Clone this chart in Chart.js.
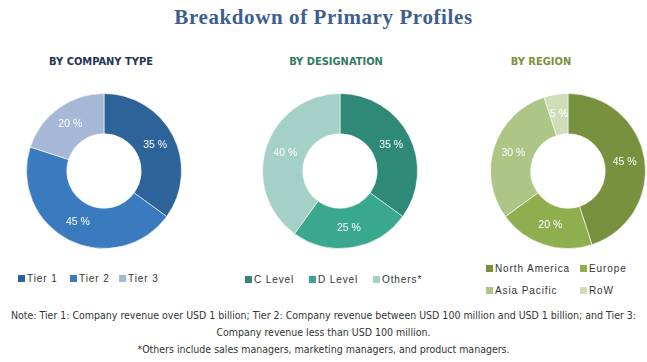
<!DOCTYPE html>
<html lang="en">
<head>
  <meta charset="UTF-8" />
  <title>Breakdown of Primary Profiles</title>
  <script src="https://cdn.jsdelivr.net/npm/chart.js@4.4.3/dist/chart.umd.min.js"></script>
  <style>
    body {
      margin: 0;
      width: 647px;
      height: 362px;
      background: #ffffff;
      position: relative;
      overflow: hidden;
      font-family: "Liberation Sans", Arial, sans-serif;
    }
    .title {
      position: absolute;
      left: 0; width: 647px; top: 5px;
      text-align: center;
      font-family: "Liberation Serif", "DejaVu Serif", serif;
      font-weight: bold;
      font-size: 21px;
      letter-spacing: 0.6px;
      color: #3d5f8f;
    }
    .sub {
      position: absolute;
      top: 55px;
      font-family: "DejaVu Sans Condensed", "DejaVu Sans", sans-serif;
      font-stretch: condensed;
      font-weight: bold;
      font-size: 11px;
      transform: translateX(-50%);
      white-space: nowrap;
    }
    .box {
      position: absolute;
      width: 156px;
      height: 156px;
    }
    .legend {
      position: absolute;
      font-size: 10px;
      letter-spacing: 0.9px;
      color: #333;
      white-space: nowrap;
    }
    .legend span { position: absolute; }
    .legend i {
      display: inline-block;
      width: 7px; height: 7px;
      margin-right: 2px;
      vertical-align: 0px;
    }
    .note {
      position: absolute;
      left: 0; width: 647px;
      text-align: center;
      white-space: nowrap;
      font-family: "DejaVu Sans Condensed", "DejaVu Sans", sans-serif;
      font-stretch: condensed;
      font-size: 10.5px;
      color: #333;
    }
  </style>
</head>
<body>
  <div class="title">Breakdown of Primary Profiles</div>
  <div class="sub" style="left:101px;color:#1f3552">BY COMPANY TYPE</div>
  <div class="sub" style="left:336px;color:#2e7b66">BY DESIGNATION</div>
  <div class="sub" style="left:541px;color:#7b913b">BY REGION</div>

  <div class="box" style="left:26px;top:93px"><canvas id="c1" width="156" height="156"></canvas></div>
  <div class="box" style="left:262px;top:93px"><canvas id="c2" width="156" height="156"></canvas></div>
  <div class="box" style="left:490px;top:93px"><canvas id="c3" width="156" height="156"></canvas></div>

  <div class="legend" id="lg1" style="left:18px;top:273px"></div>
  <div class="legend" id="lg2" style="left:245px;top:274px"></div>
  <div class="legend" id="lg3" style="left:486px;top:263px"></div>

  <div class="note" style="top:309px">Note: Tier 1: Company revenue over USD 1 billion; Tier 2: Company revenue between USD 100 million and USD 1 billion; and Tier 3:</div>
  <div class="note" style="top:326px">Company revenue less than USD 100 million.</div>
  <div class="note" style="top:343px">*Others include sales managers, marketing managers, and product managers.</div>

  <script>
    // company type
    const companyLabels = ['Tier 1', 'Tier 2', 'Tier 3'];
    const companyValues = [35, 45, 20];
    const companyColors = ['#2e6399', '#3a7bbf', '#a6b8d6'];

    // designation
    const designLabels = ['C Level', 'D Level', 'Others*'];
    const designValues = [35, 25, 40];
    const designColors = ['#2e8a77', '#3aa78f', '#a4d0c5'];

    // region
    const regionLabels = ['North America', 'Europe', 'Asia Pacific', 'RoW'];
    const regionValues = [45, 20, 30, 5];
    const regionColors = ['#78913e', '#8fae4e', '#adc686', '#d0ddb9'];

    // percent labels in the middle of each ring segment
    const pctLabels = {
      id: 'pctLabels',
      afterDatasetsDraw(chart) {
        const ctx = chart.ctx;
        const meta = chart.getDatasetMeta(0);
        ctx.save();
        ctx.font = '10.5px "Liberation Sans", Arial, sans-serif';
        ctx.fillStyle = '#ffffff';
        ctx.textAlign = 'center';
        ctx.textBaseline = 'middle';
        meta.data.forEach((arc, i) => {
          const p = arc.tooltipPosition();
          ctx.fillText(chart.data.datasets[0].data[i] + ' %', p.x, p.y);
        });
        ctx.restore();
      }
    };

    function donut(id, labels, values, colors) {
      new Chart(document.getElementById(id), {
        type: 'doughnut',
        data: {
          labels: labels,
          datasets: [{
            data: values,
            backgroundColor: colors,
            borderColor: 'rgba(255,255,255,0.6)',
            borderWidth: 1
          }]
        },
        options: {
          responsive: false,
          animation: false,
          cutout: '48%',
          layout: { padding: 0 },
          plugins: {
            legend: { display: false },
            tooltip: { enabled: false }
          }
        },
        plugins: [pctLabels]
      });
    }

    donut('c1', companyLabels, companyValues, companyColors);
    donut('c2', designLabels, designValues, designColors);
    donut('c3', regionLabels, regionValues, regionColors);

    function legend(id, labels, colors, spots) {
      const el = document.getElementById(id);
      labels.forEach((l, i) => {
        const s = document.createElement('span');
        s.style.left = spots[i][0] + 'px';
        s.style.top = spots[i][1] + 'px';
        s.innerHTML = '<i style="background:' + colors[i] + '"></i>' + l;
        el.appendChild(s);
      });
    }

    legend('lg1', companyLabels, companyColors, [[0, 0], [52, 0], [101, 0]]);
    legend('lg2', designLabels, designColors, [[0, 0], [64, 0], [128, 0]]);
    legend('lg3', regionLabels, regionColors, [[0, 0], [94, 0], [0, 22], [94, 22]]);
  </script>
</body>
</html>
